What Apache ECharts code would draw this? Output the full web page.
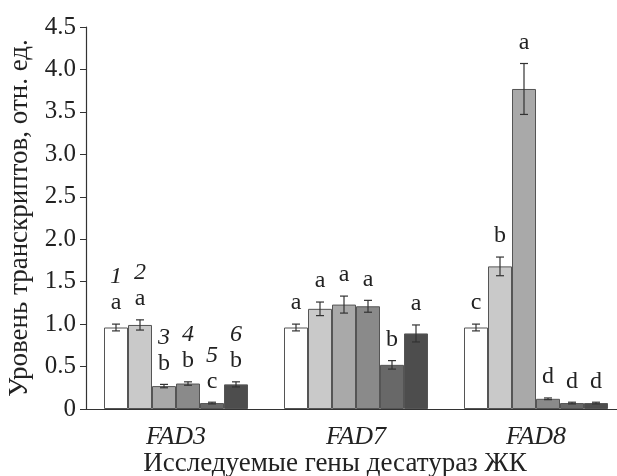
<!DOCTYPE html>
<html>
<head>
<meta charset="utf-8">
<script src="https://cdn.jsdelivr.net/npm/echarts@6/dist/echarts.min.js"></script>
<style>
  html, body { margin: 0; padding: 0; background: #fff; }
  #chart { width: 617px; height: 476px; }
</style>
</head>
<body>
<div id="chart"></div>
<script>
// categories
var genes = ["FAD3", "FAD7", "FAD8"];
// bar values, one array per treatment (1..6), across genes
var values1 = [0.96, 0.96, 0.96];
var values2 = [0.99, 1.18, 1.68];
var values3 = [0.27, 1.23, 3.77];
var values4 = [0.30, 1.21, 0.12];
var values5 = [0.07, 0.52, 0.07];
var values6 = [0.29, 0.89, 0.07];
// error bars
var errors1 = [0.04, 0.04, 0.04];
var errors2 = [0.06, 0.08, 0.11];
var errors3 = [0.02, 0.10, 0.30];
var errors4 = [0.02, 0.07, 0.01];
var errors5 = [0.01, 0.05, 0.01];
var errors6 = [0.03, 0.10, 0.01];
// significance letters
var letters1 = ["a", "a", "c"];
var letters2 = ["a", "a", "b"];
var letters3 = ["b", "a", "a"];
var letters4 = ["b", "a", "d"];
var letters5 = ["c", "b", "d"];
var letters6 = ["b", "a", "d"];
// treatment numbers, shown over the first gene only
var numbers = ["1", "2", "3", "4", "5", "6"];

var allValues = [values1, values2, values3, values4, values5, values6];
var allErrors = [errors1, errors2, errors3, errors4, errors5, errors6];
var allLetters = [letters1, letters2, letters3, letters4, letters5, letters6];
var fills = ["#ffffff", "#c9c9c9", "#a9a9a9", "#8a8a8a", "#686868", "#4d4d4d"];

var font = "Liberation Serif";

var chart = echarts.init(document.getElementById("chart"));

var series = [];
allValues.forEach(function (vals, k) {
  series.push({
    type: "bar",
    data: vals,
    barGap: "0%",
    barCategoryGap: "20%",
    itemStyle: { color: fills[k], borderColor: "#555", borderWidth: 1 },
    animation: false
  });
});

// error bars + labels
var errData = [];
var errText = [];
allValues.forEach(function (vals, k) {
  vals.forEach(function (v, c) {
    errData.push([c, k, v, allErrors[k][c]]);
    errText.push({ letter: allLetters[k][c], num: c === 0 ? numbers[k] : "" });
  });
});

series.push({
  type: "custom",
  data: errData,
  encode: { x: 0, y: 2 },
  clip: false,
  z: 10,
  animation: false,
  renderItem: function (params, api) {
    var c = api.value(0), k = api.value(1), v = api.value(2), e = api.value(3);
    var band = api.size([1, 0])[0];
    var bw = band * 0.8 / 6;
    var x = api.coord([c, 0])[0] + (k - 2.5) * bw;
    var lo = api.coord([c, v - e])[1];
    var hi = api.coord([c, v + e])[1];
    var cap = 4;
    var st = { stroke: "#333", lineWidth: 1.2 };
    var info = errText[params.dataIndex];
    var children = [
      { type: "line", shape: { x1: x, y1: lo, x2: x, y2: hi }, style: st },
      { type: "line", shape: { x1: x - cap, y1: lo, x2: x + cap, y2: lo }, style: st },
      { type: "line", shape: { x1: x - cap, y1: hi, x2: x + cap, y2: hi }, style: st },
      { type: "text", style: { text: info.letter, x: x, y: hi - 9, align: "center",
          verticalAlign: "bottom", font: "24px '" + font + "'", fill: "#222" } }
    ];
    if (info.num) {
      children.push({ type: "text", style: { text: info.num, x: x, y: hi - 35, align: "center",
          verticalAlign: "bottom", font: "italic 24px '" + font + "'", fill: "#222" } });
    }
    return { type: "group", children: children };
  }
});

var option = {
  animation: false,
  title: {
    text: "Исследуемые гены десатураз ЖК",
    left: 330,
    top: 445,
    textAlign: "center",
    textStyle: { fontFamily: font, fontSize: 27, fontWeight: "normal", color: "#222" }
  },
  grid: { left: 86, right: -9, top: 27, bottom: 67, outerBoundsMode: "none" },
  xAxis: {
    type: "category",
    data: genes,
    axisLine: { lineStyle: { color: "#333", width: 1.2 } },
    axisTick: { show: false },
    axisLabel: { fontFamily: font, fontStyle: "italic", fontSize: 26, color: "#222", margin: 15 }
  },
  yAxis: {
    type: "value",
    min: 0,
    max: 4.5,
    interval: 0.5,
    name: "Уровень транскриптов, отн. ед.",
    nameLocation: "middle",
    nameGap: 50,
    nameTextStyle: { fontFamily: font, fontSize: 27, color: "#222" },
    axisLine: { show: true, lineStyle: { color: "#333", width: 1.2 } },
    axisTick: { show: true, length: 6, lineStyle: { color: "#333" } },
    splitLine: { show: false },
    axisLabel: {
      fontFamily: font, fontSize: 25, color: "#222", margin: 10,
      formatter: function (v) { return v === 0 ? "0" : v.toFixed(1); }
    }
  },
  series: series
};
chart.setOption(option);
</script>
</body>
</html>
